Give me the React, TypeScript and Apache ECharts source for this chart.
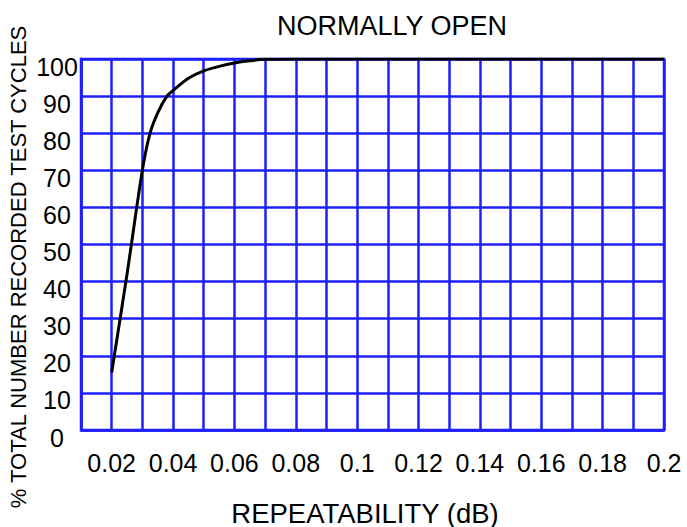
import React, { useEffect, useRef } from "react";
import * as echarts from "echarts";

const titleText = "NORMALLY OPEN";
const xAxisTitle = "REPEATABILITY (dB)";
const yAxisTitle = "% TOTAL NUMBER RECORDED TEST CYCLES";

const repeatabilityDb = [0.02, 0.025, 0.03, 0.0325, 0.035, 0.038, 0.04, 0.045, 0.05, 0.055, 0.06, 0.065, 0.07, 0.08, 0.1, 0.2];
const percentCycles = [15.5, 42, 70, 80, 85.5, 90, 91.5, 94.8, 96.8, 98, 98.9, 99.5, 99.9, 100, 100, 100];

const blue = "#1f1fff";
const font = "'Liberation Sans', Arial, sans-serif";

export default function App() {
  const ref = useRef<HTMLDivElement>(null);
  useEffect(() => {
    document.body.style.margin = "0";
    if (!ref.current) return;
    const chart = echarts.init(ref.current, null, { renderer: "svg" });
    chart.setOption({
      animation: false,
      backgroundColor: "#ffffff",
      grid: {
        left: 81,
        top: 59,
        right: 23,
        bottom: 97,
        show: true,
        borderColor: blue,
        borderWidth: 2.5,
      },
      xAxis: {
        type: "value",
        min: 0.01,
        max: 0.2,
        interval: 0.01,
        axisLine: { show: true, lineStyle: { color: blue, width: 2.5 } },
        axisTick: { show: false },
        splitLine: { show: true, lineStyle: { color: blue, width: 2.5 } },
        axisLabel: {
          color: "#000",
          fontFamily: font,
          fontSize: 25,
          margin: 20,
          showMinLabel: true,
          showMaxLabel: true,
          formatter: (v: number) => {
            const k = Math.round(v * 100);
            return k % 2 === 0 ? String(k / 100) : "";
          },
        },
      },
      yAxis: {
        type: "value",
        min: 0,
        max: 100,
        interval: 10,
        axisLine: { show: true, lineStyle: { color: blue, width: 2.5 } },
        axisTick: { show: false },
        splitLine: { show: true, lineStyle: { color: blue, width: 2.5 } },
        axisLabel: {
          color: "#000",
          fontFamily: font,
          fontSize: 25,
          margin: 24,
          align: "center",
          verticalAlign: "top",
          lineHeight: 15,
        },
      },
      graphic: [
        {
          type: "text",
          left: 277,
          top: 12,
          style: { text: titleText, fontFamily: font, fontSize: 27, fill: "#000" },
        },
        {
          type: "text",
          x: 365,
          y: 513,
          style: {
            text: xAxisTitle,
            fontFamily: font,
            fontSize: 27.5,
            fill: "#000",
            textAlign: "center",
            textVerticalAlign: "middle",
          },
        },
        {
          type: "text",
          x: 18,
          y: 267,
          rotation: Math.PI / 2,
          style: {
            text: yAxisTitle,
            fontFamily: font,
            fontSize: 22,
            fill: "#000",
            textAlign: "center",
            textVerticalAlign: "middle",
          },
        },
      ],
      series: [
        {
          type: "line",
          data: repeatabilityDb.map((x, i) => [x, percentCycles[i]]),
          smooth: 0.3,
          showSymbol: false,
          lineStyle: { color: "#000", width: 3 },
          z: 5,
        },
      ],
    });
    return () => chart.dispose();
  }, []);
  return <div ref={ref} style={{ width: 687, height: 527 }} />;
}
